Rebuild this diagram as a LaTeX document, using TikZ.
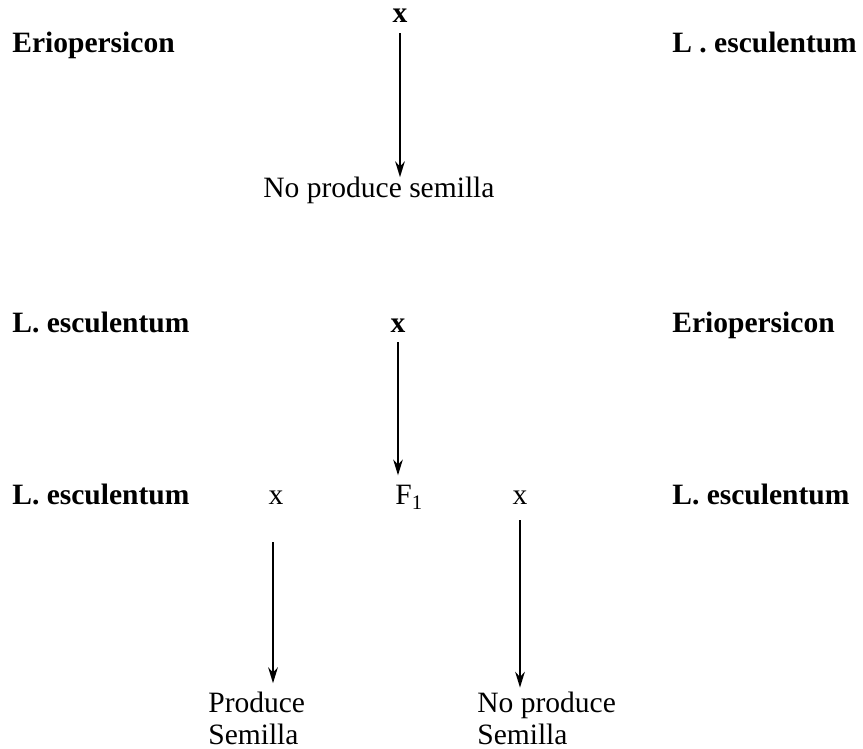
\documentclass[tikz,border=0pt]{standalone}
\usepackage{fontspec}
\setmainfont{Liberation Serif}
\usetikzlibrary{arrows.meta}

\begin{document}
\begin{tikzpicture}[x=0.02cm,y=-0.02cm,
    especie/.style={font=\fontsize{16.8}{18.2}\selectfont\bfseries, inner sep=0pt, anchor=base west},
    texto/.style={font=\fontsize{16.8}{18.2}\selectfont, inner sep=0pt},
    flecha/.style={-{Stealth[length=9pt,width=5.5pt]}, line width=1.1pt}]

            \useasboundingbox (0,0) rectangle (863,749);

            \node (erio1) at (12,53) [especie] {Eriopersicon};
            \node (escu1) at (672,53) [especie] {L . esculentum};
            \node (x1) at (400,23) [texto, anchor=base, font=\fontsize{16.8}{18.2}\selectfont\bfseries] {x};
            \node (res1) at (263,198) [texto, anchor=base west] {No produce semilla};

            \node (escu2) at (12,333) [especie] {L. esculentum};
            \node (erio2) at (672,333) [especie] {Eriopersicon};
            \node (x2) at (398,333) [texto, anchor=base, font=\fontsize{16.8}{18.2}\selectfont\bfseries] {x};

            \node (escu3) at (12,505) [especie] {L. esculentum};
            \node (escu4) at (672,505) [especie] {L. esculentum};
            \node (x3) at (276,505) [texto, anchor=base] {x};
            \node (f1) at (395,505) [texto, anchor=base west] {F\textsubscript{1}};
            \node (x4) at (520,505) [texto, anchor=base] {x};

            \node (prod) at (208,692) [texto, anchor=north west, align=left] {Produce\\Semilla};
            \node (noprod) at (477,692) [texto, anchor=north west, align=left] {No produce\\Semilla};

            \draw[flecha, shorten <=5.7pt] (x1.south) -- (x1.south |- res1.north);
            \draw[flecha, shorten <=5pt, shorten >=5.7pt] (x2.south) -- (x2.south |- f1.north);
            \draw[flecha, shorten <=21pt, shorten >=5pt] ([xshift=-1.7pt]x3.south) -- ([xshift=-1.7pt]x3.south |- prod.north);
            \draw[flecha, shorten <=8.5pt, shorten >=2.5pt] (x4.south) -- (x4.south |- noprod.north);

        \end{tikzpicture}
\end{document}
